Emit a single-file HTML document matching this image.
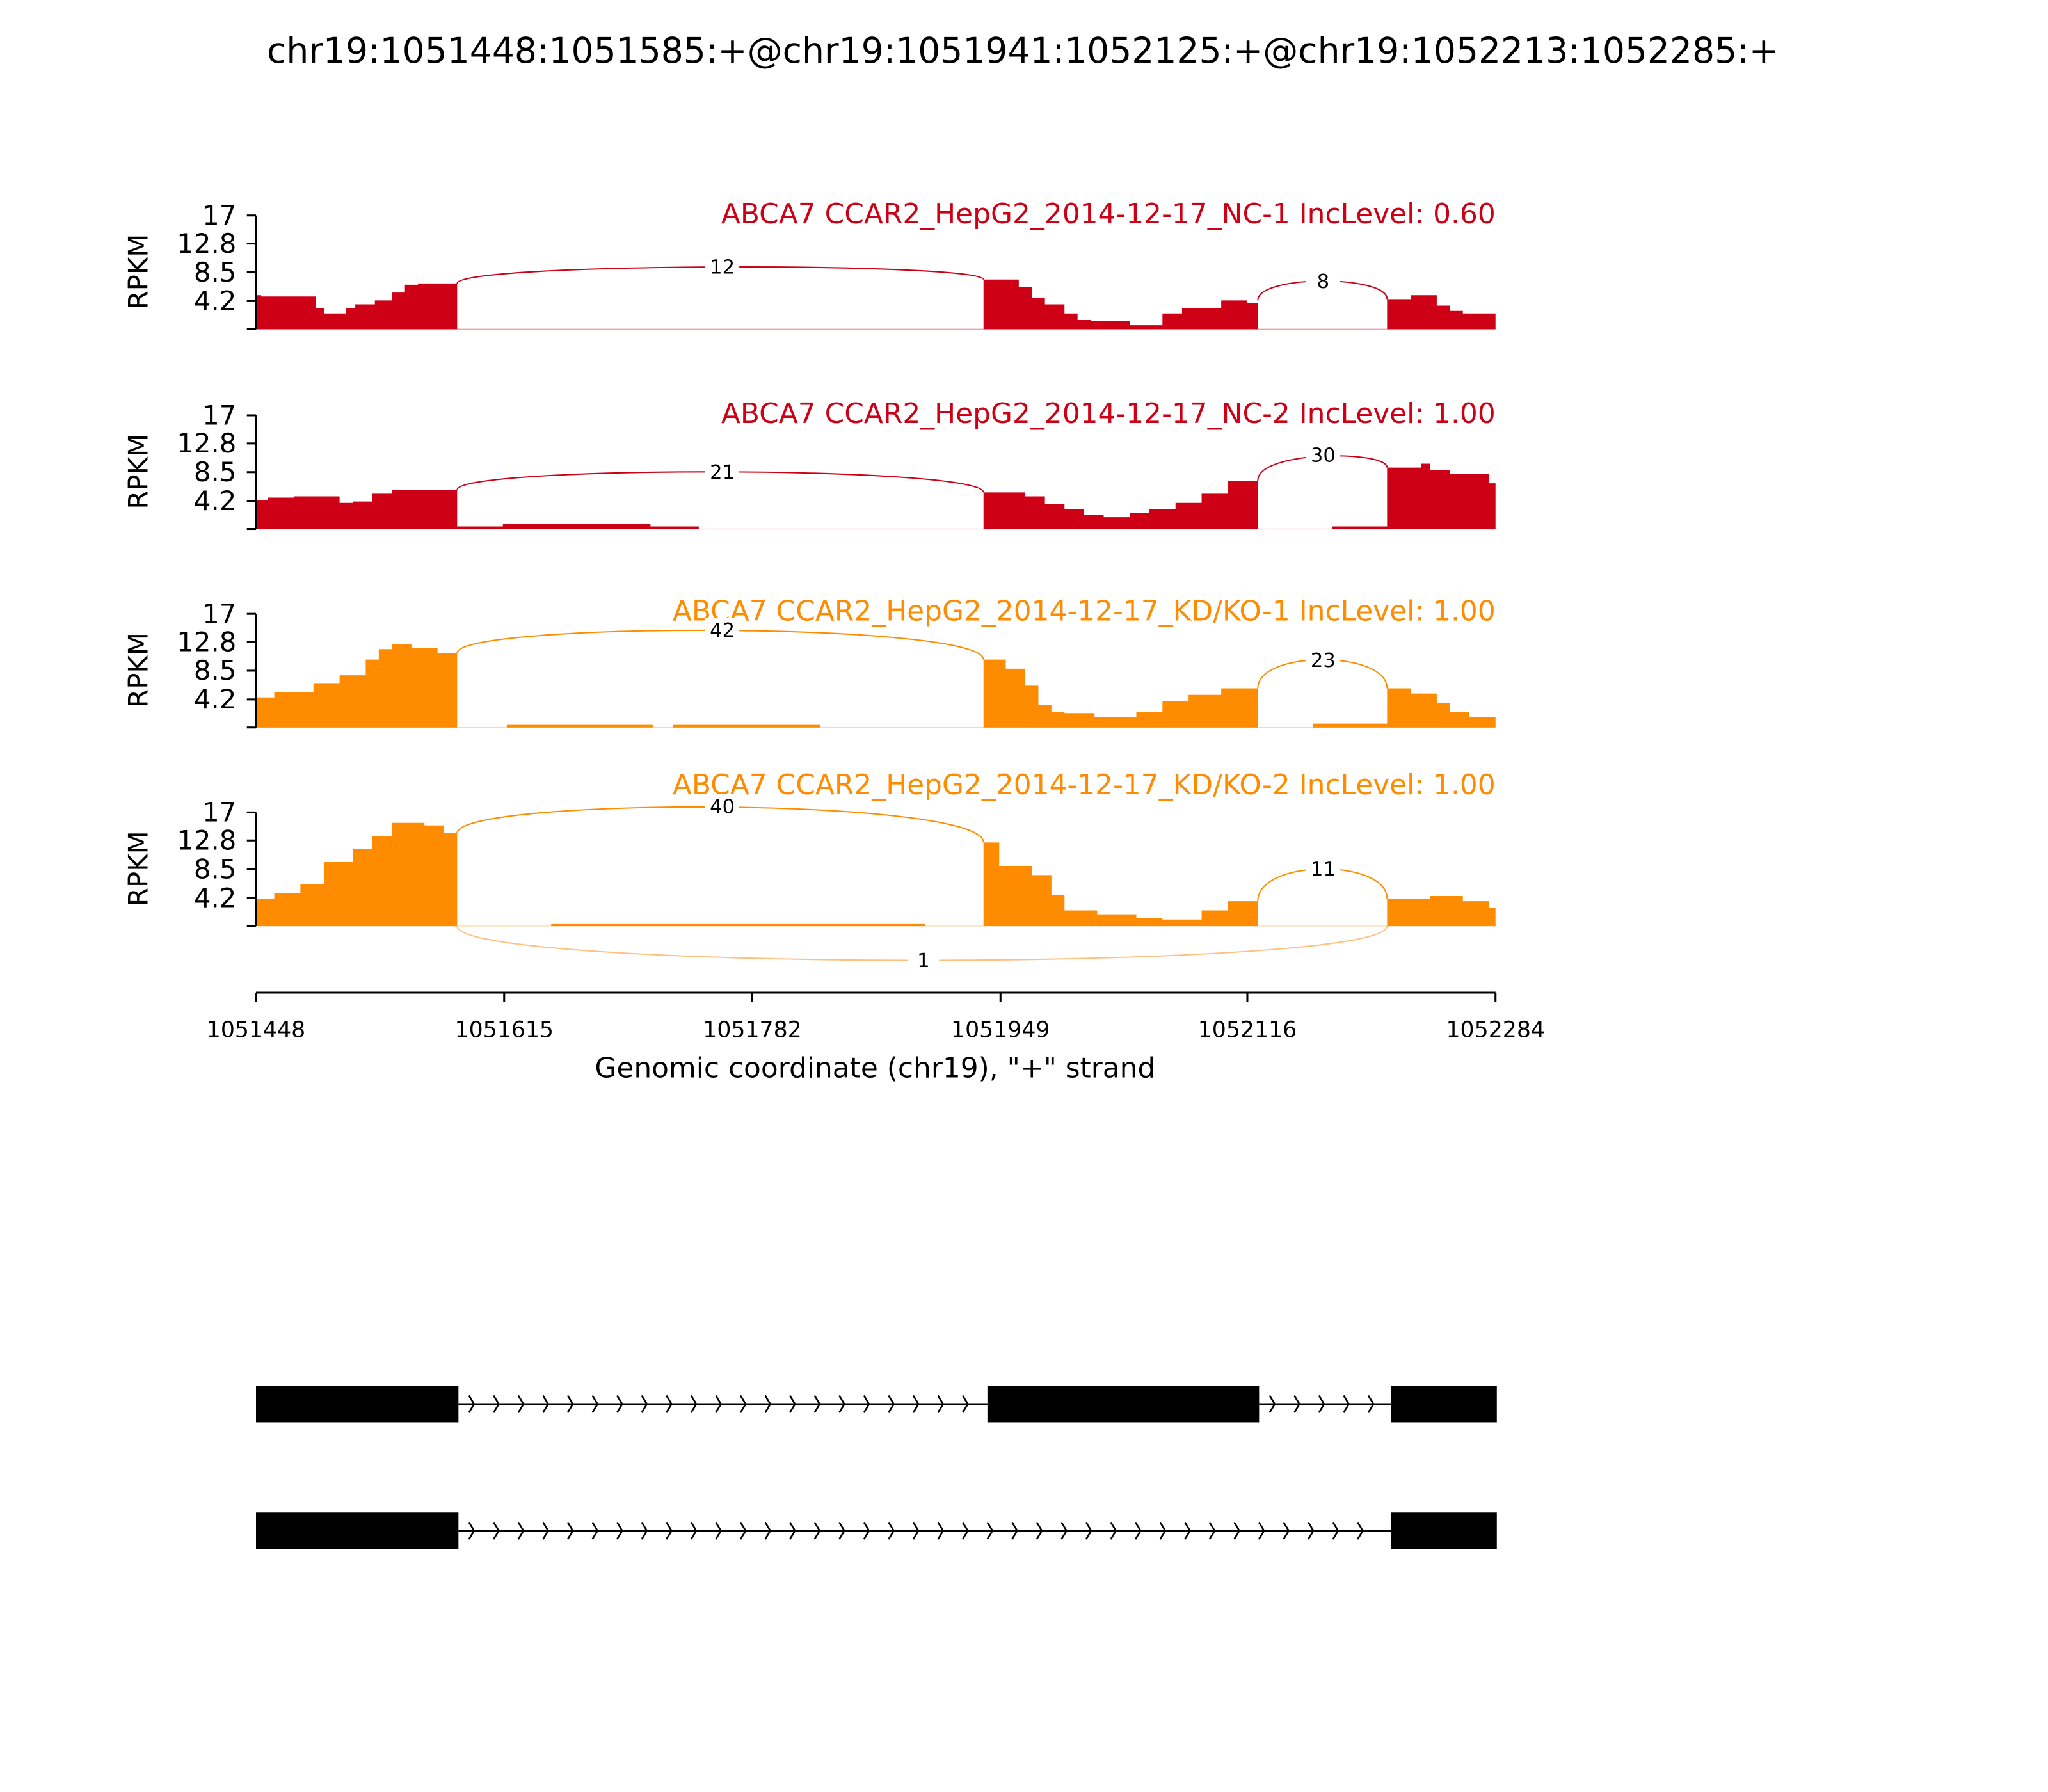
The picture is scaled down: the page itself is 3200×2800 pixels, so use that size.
<!DOCTYPE html>
<html><head><meta charset="utf-8"><style>
html,body{margin:0;padding:0;background:#fff}
svg{display:block}
text{font-family:"DejaVu Sans","Liberation Sans",sans-serif}
</style></head><body>
<svg id="s" width="3200" height="2800" viewBox="0 0 1568 1372" xmlns="http://www.w3.org/2000/svg">
<rect width="1568" height="1372" fill="#fff"/>
<text x="783" y="48" font-size="27" text-anchor="middle">chr19:1051448:1051585:+@chr19:1051941:1052125:+@chr19:1052213:1052285:+</text>
<g id="tracks"></g>
<g id="gene"></g>
<g stroke="#000" stroke-width="1.5">
<line x1="196" y1="760" x2="1145" y2="760"/>
<line x1="196" y1="760" x2="196" y2="767"/><line x1="386" y1="760" x2="386" y2="767"/>
<line x1="576" y1="760" x2="576" y2="767"/><line x1="766" y1="760" x2="766" y2="767"/>
<line x1="955" y1="760" x2="955" y2="767"/><line x1="1145" y1="760" x2="1145" y2="767"/>
</g>
<g font-size="17" text-anchor="middle">
<text x="196" y="794">1051448</text><text x="386" y="794">1051615</text><text x="576" y="794">1051782</text>
<text x="766" y="794">1051949</text><text x="955" y="794">1052116</text><text x="1145" y="794">1052284</text>
</g>
<text x="670" y="825" font-size="21.5" text-anchor="middle">Genomic coordinate (chr19), "+" strand</text>
</svg>
<script>
const NS="http://www.w3.org/2000/svg";
function el(p,t,a,txt){const e=document.createElementNS(NS,t);for(const k in a)e.setAttribute(k,a[k]);if(txt!==undefined)e.textContent=txt;p.appendChild(e);return e;}
const T=document.getElementById('tracks');
const RED="#cd0016",OR="#ff8c00";
const tracks=[
{top:165,col:RED,title:"ABCA7 CCAR2_HepG2_2014-12-17_NC-1 IncLevel: 0.60",ty:171,
segs:[[196,200,226],[200,242,227],[242,248,236],[248,265,240],[265,272,236],[272,287,233],[287,300,230],[300,310,224],[310,320,218],[320,350,217],
[753,780,214],[780,790,220],[790,800,228],[800,815,233],[815,825,240],[825,835,245],[835,865,246],[865,890,249],[890,905,240],[905,935,236],[935,955,230],[955,963,232],
[1062,1080,229],[1080,1100,226],[1100,1110,234],[1110,1120,238],[1120,1145,240]],
arcs:[[350,217,753,214,204,"12",553],[963,230,1062,229,215,"8",1013]]},
{top:318,col:RED,title:"ABCA7 CCAR2_HepG2_2014-12-17_NC-2 IncLevel: 1.00",ty:324,
segs:[[196,205,383],[205,225,381],[225,260,380],[260,270,385],[270,285,384],[285,300,378],[300,320,375],[320,350,375],[350,385,403],[385,498,401],[498,535,403],
[753,785,377],[785,800,380],[800,815,386],[815,830,390],[830,845,394],[845,865,396],[865,880,393],[880,900,390],[900,920,385],[920,940,378],[940,963,368],[1020,1062,403],
[1062,1088,358],[1088,1095,355],[1095,1110,360],[1110,1140,363],[1140,1145,370]],
arcs:[[350,375,753,377,361,"21",553],[963,368,1062,358,348,"30",1013]]},
{top:470,col:OR,title:"ABCA7 CCAR2_HepG2_2014-12-17_KD/KO-1 IncLevel: 1.00",ty:475,
segs:[[196,210,534],[210,240,530],[240,260,523],[260,280,517],[280,290,505],[290,300,497],[300,315,493],[315,335,496],[335,350,500],[388,500,555],[515,628,555],
[753,770,505],[770,785,512],[785,795,525],[795,805,540],[805,815,545],[815,838,546],[838,870,549],[870,890,545],[890,910,537],[910,935,532],[935,963,527],[1005,1062,554],
[1062,1080,527],[1080,1100,531],[1100,1110,538],[1110,1125,545],[1125,1145,549]],
arcs:[[350,500,753,505,482,"42",553],[963,527,1062,527,505,"23",1013]]},
{top:622,col:OR,title:"ABCA7 CCAR2_HepG2_2014-12-17_KD/KO-2 IncLevel: 1.00",ty:608,
segs:[[196,210,688],[210,230,684],[230,248,677],[248,270,660],[270,285,650],[285,300,640],[300,325,630],[325,340,632],[340,350,638],[422,708,707],
[753,765,645],[765,790,663],[790,805,670],[805,815,685],[815,840,697],[840,870,700],[870,890,703],[890,920,704],[920,940,697],[940,963,690],
[1062,1095,688],[1095,1120,686],[1120,1140,690],[1140,1145,695]],
arcs:[[350,638,753,645,617,"40",553],[963,690,1062,688,665,"11",1013]]}
];
tracks.forEach(t=>{
 const base=t.top+87;
 let d="";
 t.segs.forEach(s=>{d+=`M${s[0]},${base}L${s[0]},${s[2]}L${s[1]},${s[2]}L${s[1]},${base}Z`;});
 el(T,'path',{d:d,fill:t.col});
 el(T,'line',{x1:196,y1:base,x2:1145,y2:base,stroke:t.col,'stroke-width':0.6,opacity:0.4});
 el(T,'line',{x1:196,y1:t.top,x2:196,y2:base,stroke:'#000','stroke-width':1.5});
 const labs=["17","12.8","8.5","4.2",""];
 const ys=[t.top,t.top+87*(4.2/17),t.top+87*(8.5/17),t.top+87*(12.8/17),base];
 ys.forEach((yy,i)=>{
  el(T,'line',{x1:189,y1:yy,x2:196,y2:yy,stroke:'#000','stroke-width':1.5});
  if(labs[i]) el(T,'text',{x:181,y:yy+7,'font-size':20.5,'text-anchor':'end'},labs[i]);
 });
 el(T,'text',{x:106,y:t.top+43,'font-size':20.5,'text-anchor':'middle',transform:`rotate(-90 106 ${t.top+43})`,dy:7},"RPKM");
 el(T,'text',{x:1145,y:t.ty,'font-size':21.5,'text-anchor':'end',fill:t.col},t.title);
 t.arcs.forEach(a=>{
  const [x1,y1,x2,y2,py,lab,lx]=a;
  const h=(Math.min(y1,y2)-py);
  const cy=py-h*0.33;
  el(T,'path',{d:`M${x1},${y1}C${x1},${cy} ${x2},${cy} ${x2},${y2}`,fill:'none',stroke:t.col,'stroke-width':1});
  el(T,'rect',{x:lx-13,y:py-9,width:26,height:18,fill:'#fff'});
  el(T,'text',{x:lx,y:py+5.5,'font-size':15,'text-anchor':'middle'},lab);
 });
});
el(T,'path',{d:"M350,709C350,744 1062,744 1062,709",fill:'none',stroke:'#ffc080','stroke-width':1});
el(T,'rect',{x:695,y:726,width:24,height:18,fill:'#fff'});
el(T,'text',{x:707,y:740.5,'font-size':15,'text-anchor':'middle'},"1");
const G=document.getElementById('gene');
function row(y,boxes,introns){
 introns.forEach(([a,b])=>{
  el(G,'line',{x1:a,y1:y,x2:b,y2:y,stroke:'#000','stroke-width':1.3});
  for(let x=a+12;x<b-3;x+=18.9){
   el(G,'path',{d:`M${x-4},${y-6.5}L${x},${y}L${x-4},${y+6.5}`,fill:'none',stroke:'#000','stroke-width':1.3});
  }
 });
 boxes.forEach(([a,b])=>el(G,'rect',{x:a,y:y-14,width:b-a,height:28,fill:'#000'}));
}
row(1075,[[196,351],[756,964],[1065,1146]],[[351,756],[964,1065]]);
row(1172,[[196,351],[1065,1146]],[[351,1065]]);
</script>
</body></html>
